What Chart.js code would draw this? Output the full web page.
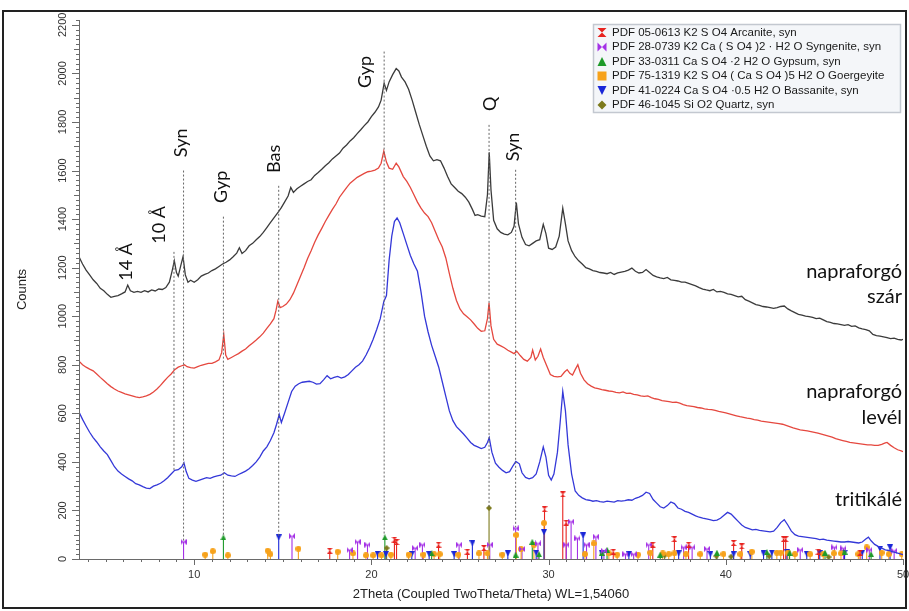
<!DOCTYPE html>
<html><head><meta charset="utf-8">
<script src="https://cdn.jsdelivr.net/npm/chart.js@4/dist/chart.umd.min.js"></script>
<style>html,body{margin:0;padding:0;background:#fff;}canvas{display:block;}</style>
</head><body>
<canvas id="c" width="909" height="611"></canvas>
<script>
// ---------- DATA ----------
const xTickLabels = [10, 20, 30, 40, 50];
const yTickLabels = [0, 200, 400, 600, 800, 1000, 1200, 1400, 1600, 1800, 2000, 2200];

// napraforgó szár (black)
const szar = [[3.5,1245],[3.7,1215],[3.9,1190],[4.1,1170],[4.3,1150],[4.5,1135],[4.7,1115],[4.9,1105],[5.1,1090],[5.3,1078],[5.5,1082],[5.7,1085],[5.9,1092],[6.1,1100],[6.25,1128],[6.4,1105],[6.6,1098],[6.8,1102],[7.0,1098],[7.2,1105],[7.4,1100],[7.6,1108],[7.8,1104],[8.0,1112],[8.2,1110],[8.4,1118],[8.6,1140],[8.75,1185],[8.88,1228],[9.0,1180],[9.1,1165],[9.25,1210],[9.37,1245],[9.5,1170],[9.65,1140],[9.8,1148],[10.0,1140],[10.2,1150],[10.4,1165],[10.6,1172],[10.8,1178],[11.0,1188],[11.2,1195],[11.4,1205],[11.6,1215],[11.8,1222],[12.0,1232],[12.2,1245],[12.4,1260],[12.55,1282],[12.7,1258],[12.9,1270],[13.1,1290],[13.3,1300],[13.5,1315],[13.7,1328],[13.9,1345],[14.1,1365],[14.3,1385],[14.5,1405],[14.7,1425],[14.9,1445],[15.1,1470],[15.3,1495],[15.45,1530],[15.6,1510],[15.8,1525],[16.0,1535],[16.2,1545],[16.4,1555],[16.6,1562],[16.8,1580],[17.0,1592],[17.2,1605],[17.4,1620],[17.6,1632],[17.8,1648],[18.0,1660],[18.2,1672],[18.4,1692],[18.6,1705],[18.8,1722],[19.0,1735],[19.2,1752],[19.4,1768],[19.6,1785],[19.8,1800],[20.0,1822],[20.2,1840],[20.4,1862],[20.55,1890],[20.72,1960],[20.85,1930],[21.0,1965],[21.2,1995],[21.4,2020],[21.55,2010],[21.7,1985],[21.9,1965],[22.1,1935],[22.3,1890],[22.5,1840],[22.7,1790],[22.9,1745],[23.1,1700],[23.3,1660],[23.5,1640],[23.7,1645],[23.9,1640],[24.1,1610],[24.3,1575],[24.5,1545],[24.7,1530],[24.9,1515],[25.1,1505],[25.3,1490],[25.5,1470],[25.7,1440],[25.85,1415],[26.0,1418],[26.2,1412],[26.4,1410],[26.55,1500],[26.65,1675],[26.75,1520],[26.9,1395],[27.1,1360],[27.3,1345],[27.5,1338],[27.7,1335],[27.9,1345],[28.05,1370],[28.18,1468],[28.3,1380],[28.5,1325],[28.7,1295],[28.9,1290],[29.1,1300],[29.3,1310],[29.5,1315],[29.7,1378],[29.85,1340],[30.0,1280],[30.2,1275],[30.4,1285],[30.6,1330],[30.8,1445],[30.95,1380],[31.1,1310],[31.3,1270],[31.5,1245],[31.7,1228],[31.9,1215],[32.1,1200],[32.3,1195],[32.5,1188],[32.7,1185],[32.9,1180],[33.1,1178],[33.3,1175],[33.5,1180],[33.7,1172],[33.9,1178],[34.1,1182],[34.3,1185],[34.5,1190],[34.7,1198],[34.9,1185],[35.1,1178],[35.3,1180],[35.5,1192],[35.7,1180],[35.9,1168],[36.1,1162],[36.3,1158],[36.5,1155],[36.7,1160],[36.9,1150],[37.1,1148],[37.3,1145],[37.5,1140],[37.7,1140],[37.9,1135],[38.1,1130],[38.3,1125],[38.5,1118],[38.7,1112],[38.9,1108],[39.1,1105],[39.3,1110],[39.5,1100],[39.7,1102],[39.9,1098],[40.1,1092],[40.3,1090],[40.5,1085],[40.7,1080],[40.9,1082],[41.1,1068],[41.3,1062],[41.5,1055],[41.7,1048],[41.9,1045],[42.1,1040],[42.3,1038],[42.5,1035],[42.7,1032],[42.9,1035],[43.1,1040],[43.3,1042],[43.5,1030],[43.7,1022],[43.9,1015],[44.1,1008],[44.3,1004],[44.5,1000],[44.7,998],[44.9,995],[45.1,990],[45.3,992],[45.5,985],[45.7,978],[45.9,975],[46.1,970],[46.3,968],[46.5,965],[46.7,962],[46.9,965],[47.1,958],[47.3,960],[47.5,952],[47.7,948],[47.9,945],[48.1,940],[48.3,925],[48.5,920],[48.7,918],[48.9,915],[49.1,912],[49.3,908],[49.5,910],[49.7,905],[49.9,902],[50.0,905]];

// napraforgó levél (red)
const level = [[3.5,815],[3.7,800],[3.9,790],[4.1,782],[4.3,775],[4.5,762],[4.7,748],[4.9,735],[5.1,722],[5.3,710],[5.5,700],[5.7,692],[5.9,686],[6.1,680],[6.3,676],[6.5,672],[6.7,668],[6.9,665],[7.1,668],[7.3,672],[7.5,678],[7.7,688],[7.9,700],[8.1,715],[8.3,732],[8.5,748],[8.7,762],[8.9,780],[9.1,790],[9.3,796],[9.45,800],[9.6,792],[9.8,788],[10.0,786],[10.2,792],[10.4,798],[10.6,802],[10.8,806],[11.0,806],[11.2,812],[11.4,820],[11.55,850],[11.67,925],[11.78,840],[11.9,822],[12.1,830],[12.3,838],[12.5,846],[12.7,856],[12.9,865],[13.1,878],[13.3,890],[13.5,902],[13.7,915],[13.9,930],[14.1,950],[14.3,968],[14.5,990],[14.62,1025],[14.72,1062],[14.85,1035],[15.0,1040],[15.2,1050],[15.4,1068],[15.6,1095],[15.8,1130],[16.0,1165],[16.2,1200],[16.4,1238],[16.6,1270],[16.8,1305],[17.0,1335],[17.2,1362],[17.4,1390],[17.6,1415],[17.8,1440],[18.0,1462],[18.2,1490],[18.4,1510],[18.6,1530],[18.8,1548],[19.0,1560],[19.2,1572],[19.4,1580],[19.6,1588],[19.8,1595],[20.0,1598],[20.2,1602],[20.4,1610],[20.55,1630],[20.7,1680],[20.85,1635],[21.0,1610],[21.2,1605],[21.4,1630],[21.55,1615],[21.8,1575],[22.0,1555],[22.2,1530],[22.4,1500],[22.6,1470],[22.8,1445],[23.0,1425],[23.2,1410],[23.4,1385],[23.6,1350],[23.8,1315],[24.0,1285],[24.2,1240],[24.4,1175],[24.6,1115],[24.8,1065],[25.0,1030],[25.2,1010],[25.4,998],[25.6,985],[25.8,968],[26.0,950],[26.2,938],[26.4,940],[26.55,990],[26.64,1055],[26.75,960],[26.9,905],[27.1,885],[27.3,878],[27.5,870],[27.7,860],[27.9,852],[28.05,846],[28.2,856],[28.4,838],[28.6,822],[28.8,815],[29.0,830],[29.1,860],[29.25,820],[29.4,835],[29.55,865],[29.7,830],[29.9,795],[30.1,760],[30.3,752],[30.5,750],[30.7,752],[30.9,770],[31.05,780],[31.2,765],[31.35,758],[31.5,780],[31.65,800],[31.8,765],[32.0,738],[32.2,722],[32.4,712],[32.6,705],[32.8,702],[33.0,698],[33.2,695],[33.4,692],[33.6,690],[33.8,686],[34.0,684],[34.2,688],[34.4,682],[34.6,683],[34.8,678],[35.0,676],[35.2,672],[35.4,670],[35.6,672],[35.8,665],[36.0,660],[36.2,657],[36.4,652],[36.6,650],[36.8,648],[37.0,645],[37.2,646],[37.4,642],[37.6,636],[37.8,632],[38.0,630],[38.2,628],[38.4,624],[38.6,622],[38.8,618],[39.0,616],[39.2,615],[39.4,612],[39.6,608],[39.8,605],[40.0,602],[40.2,598],[40.4,594],[40.6,590],[40.8,586],[41.0,583],[41.2,580],[41.4,578],[41.6,574],[41.8,572],[42.0,568],[42.2,566],[42.4,564],[42.6,562],[42.8,560],[43.0,558],[43.2,555],[43.4,550],[43.6,545],[43.8,540],[44.0,536],[44.2,532],[44.4,530],[44.6,528],[44.8,525],[45.0,522],[45.2,518],[45.4,514],[45.6,510],[45.8,506],[46.0,502],[46.2,496],[46.4,492],[46.6,488],[46.8,484],[47.0,480],[47.2,478],[47.4,476],[47.6,474],[47.8,472],[48.0,470],[48.2,470],[48.4,468],[48.6,468],[48.8,472],[49.0,478],[49.1,480],[49.3,468],[49.5,458],[49.7,450],[49.9,445],[50.0,442]];

// tritikálé (blue)
const tritikale = [[3.5,605],[3.7,575],[3.9,548],[4.1,522],[4.3,500],[4.5,482],[4.7,462],[4.9,445],[5.1,430],[5.3,405],[5.5,380],[5.7,362],[5.9,350],[6.1,340],[6.3,330],[6.5,322],[6.7,310],[6.9,305],[7.1,298],[7.3,292],[7.5,290],[7.7,300],[7.9,305],[8.1,312],[8.3,322],[8.5,335],[8.7,350],[8.9,365],[9.1,368],[9.3,380],[9.42,396],[9.55,360],[9.7,332],[9.9,325],[10.1,320],[10.3,325],[10.5,330],[10.7,335],[10.9,332],[11.1,338],[11.3,342],[11.5,345],[11.7,355],[11.9,345],[12.1,342],[12.3,340],[12.5,348],[12.7,355],[12.9,362],[13.1,372],[13.3,385],[13.5,400],[13.7,420],[13.9,445],[14.1,462],[14.3,488],[14.5,520],[14.65,555],[14.8,595],[14.92,562],[15.1,600],[15.3,645],[15.5,690],[15.7,712],[15.9,722],[16.1,728],[16.3,730],[16.5,732],[16.7,728],[16.9,720],[17.1,722],[17.3,738],[17.5,755],[17.7,742],[17.9,748],[18.1,752],[18.3,745],[18.5,750],[18.7,760],[18.9,775],[19.1,790],[19.3,800],[19.5,815],[19.7,840],[19.9,870],[20.1,905],[20.3,945],[20.5,990],[20.7,1060],[20.85,1085],[21.0,1230],[21.15,1330],[21.3,1390],[21.45,1405],[21.6,1385],[21.8,1340],[22.0,1295],[22.2,1250],[22.4,1215],[22.6,1185],[22.8,1100],[23.0,1000],[23.2,935],[23.4,880],[23.6,835],[23.8,790],[24.0,730],[24.2,670],[24.4,610],[24.6,570],[24.8,545],[25.0,530],[25.2,515],[25.4,498],[25.6,480],[25.8,468],[26.0,462],[26.2,455],[26.4,460],[26.55,480],[26.65,500],[26.8,440],[27.0,395],[27.2,378],[27.4,365],[27.6,355],[27.8,360],[28.0,385],[28.15,402],[28.35,392],[28.5,355],[28.7,336],[28.9,330],[29.1,335],[29.3,350],[29.5,400],[29.7,462],[29.85,420],[30.0,345],[30.15,325],[30.3,350],[30.5,440],[30.65,560],[30.8,690],[30.95,610],[31.1,470],[31.3,350],[31.5,280],[31.7,262],[31.9,252],[32.1,245],[32.3,242],[32.5,238],[32.7,240],[32.9,236],[33.1,234],[33.3,238],[33.5,236],[33.7,234],[33.9,240],[34.1,238],[34.3,240],[34.5,244],[34.7,242],[34.9,250],[35.1,255],[35.3,262],[35.5,275],[35.7,270],[35.9,245],[36.1,230],[36.3,215],[36.5,210],[36.7,220],[36.9,235],[37.1,228],[37.3,210],[37.5,205],[37.7,196],[37.9,192],[38.1,185],[38.3,178],[38.5,172],[38.7,168],[38.9,165],[39.1,162],[39.3,158],[39.5,160],[39.7,168],[39.9,180],[40.1,192],[40.3,185],[40.5,170],[40.7,155],[40.9,140],[41.1,130],[41.3,125],[41.5,120],[41.7,122],[41.9,118],[42.1,116],[42.3,114],[42.5,112],[42.7,115],[42.9,130],[43.1,150],[43.3,162],[43.5,140],[43.7,115],[43.9,100],[44.1,94],[44.3,92],[44.5,90],[44.7,88],[44.9,86],[45.1,84],[45.3,80],[45.5,82],[45.7,78],[45.9,76],[46.1,74],[46.3,72],[46.5,70],[46.7,70],[46.9,72],[47.1,70],[47.3,68],[47.5,66],[47.7,70],[47.9,82],[48.05,90],[48.2,75],[48.4,60],[48.6,52],[48.8,45],[49.0,38],[49.2,35],[49.4,30],[49.6,26],[49.8,22],[50.0,18]];

// reference pattern sticks [2theta, height]
const arcanite = [[17.65,34],[21.3,80],[21.42,70],[23.79,59],[25.42,30],[26.35,45],[29.77,205],[30.8,266],[30.99,150],[33.65,30],[35.88,59],[37.1,82],[37.9,59],[40.44,66],[40.9,52],[43.26,82],[43.38,82],[45.23,30],[47.58,26]];
const syngenite = [[9.4,71],[15.52,94],[18.77,37],[19.22,71],[19.78,59],[22.47,45],[22.88,59],[24.95,59],[26.68,59],[28.14,126],[28.5,41],[29.4,64],[31.0,59],[31.27,154],[31.63,85],[32.14,59],[32.67,92],[33.12,34],[34.34,20],[34.8,20],[35.65,59],[37.62,48],[38.1,48],[38.94,42],[44.2,38],[46.13,48],[46.64,44],[48.1,38],[49.5,34]];
const gypsum = [[11.65,89],[20.76,89],[23.4,23],[28.14,18],[29.08,71],[29.46,20],[33.0,25],[33.3,38],[36.3,18],[39.5,26],[42.32,28],[43.6,26],[45.6,26],[46.7,30],[48.2,20]];
const goergeyite = [[10.62,18],[11.05,32],[11.9,15],[14.15,34],[14.3,20],[15.88,42],[18.1,30],[18.96,23],[19.69,15],[20.1,15],[20.57,15],[21.1,18],[22.1,18],[22.94,18],[23.54,20],[23.86,20],[24.91,18],[26.07,23],[26.55,23],[27.39,18],[28.18,99],[28.45,41],[29.17,59],[29.74,148],[32.05,20],[32.55,64],[33.4,23],[33.87,18],[35.05,18],[35.75,26],[36.44,23],[36.78,20],[37.1,23],[37.75,20],[38.56,20],[39.87,20],[40.82,20],[41.47,30],[42.88,26],[43.1,26],[43.5,26],[43.9,20],[44.76,20],[45.5,20],[46.1,23],[46.5,23],[47.48,20],[47.95,48],[48.8,26],[49.2,20],[49.93,20]];
const bassanite = [[14.77,89],[20.35,20],[20.82,20],[22.28,20],[23.26,20],[24.67,20],[25.7,65],[27.7,23],[29.3,26],[29.74,110],[31.95,97],[32.99,26],[34.53,20],[37.34,23],[39.13,20],[40.44,20],[41.38,20],[42.13,23],[42.6,26],[43.45,28],[44.57,20],[45.3,23],[46.7,26],[47.7,26],[48.7,42],[49.27,48]];
const quartz = [[20.86,45],[26.64,210],[36.55,15],[39.47,12],[40.3,10],[42.45,12],[45.8,8]];

// dotted marker lines [2theta, top, bottom]
const refLines = [[8.86,1265,367],[9.4,1600,75],[11.65,1410,95],[14.77,1537,95],[20.72,2090,95],[26.64,1788,212],[28.14,1603,130]];
// peak labels [text, 2theta, counts] (rotated)
const peakLabels = [['14 Å',6.17,1224],['10 Å',8.03,1376],['Syn',9.27,1714],['Gyp',11.52,1533],['Bas',14.5,1648],['Gyp',19.63,2006],['Q',26.73,1875],['Syn',28.03,1697]];
// sample labels [text, counts]
const sampleLabels = [['napraforgó',1182],['szár',1079],['napraforgó',688],['levél',581],['tritikálé',243]];
const legendTexts = ['PDF 05-0613 K2 S O4 Arcanite, syn','PDF 28-0739 K2 Ca ( S O4 )2 · H2 O Syngenite, syn','PDF 33-0311 Ca S O4 ·2 H2 O Gypsum, syn','PDF 75-1319 K2 S O4 ( Ca S O4 )5 H2 O Goergeyite','PDF 41-0224 Ca S O4 ·0.5 H2 O Bassanite, syn','PDF 46-1045 Si O2 Quartz, syn'];

// ---------- STYLE / DRAW ----------
const phaseColors = ['#e8231f','#a431e6','#1e9a2a','#f7a21b','#1a27d8','#7d7a1c'];
const phaseShapes = ['hourglass','bowtie','triUp','square','triDown','diamond'];
const phases = [arcanite, syngenite, gypsum, goergeyite, bassanite, quartz];

function drawShape(g, shape, cx, cy, s, color){
  const h = s/2;
  g.fillStyle = color;
  g.beginPath();
  if(shape==='hourglass'){ g.moveTo(cx-h,cy-h); g.lineTo(cx+h,cy-h); g.lineTo(cx,cy); g.closePath(); g.moveTo(cx-h,cy+h); g.lineTo(cx+h,cy+h); g.lineTo(cx,cy); g.closePath(); }
  else if(shape==='bowtie'){ g.moveTo(cx-h,cy-h); g.lineTo(cx-h,cy+h); g.lineTo(cx,cy); g.closePath(); g.moveTo(cx+h,cy-h); g.lineTo(cx+h,cy+h); g.lineTo(cx,cy); g.closePath(); }
  else if(shape==='triUp'){ g.moveTo(cx,cy-h); g.lineTo(cx+h,cy+h); g.lineTo(cx-h,cy+h); g.closePath(); }
  else if(shape==='triDown'){ g.moveTo(cx-h,cy-h); g.lineTo(cx+h,cy-h); g.lineTo(cx,cy+h); g.closePath(); }
  else if(shape==='square'){ g.rect(cx-h,cy-h,s,s); }
  else if(shape==='dot'){ g.arc(cx,cy,h,0,Math.PI*2); }
  else if(shape==='diamond'){ g.moveTo(cx,cy-h); g.lineTo(cx+h,cy); g.lineTo(cx,cy+h); g.lineTo(cx-h,cy); g.closePath(); }
  g.fill();
}
function markerCanvas(shape, color, s){
  const c = document.createElement('canvas'); c.width = s; c.height = s;
  drawShape(c.getContext('2d'), shape === 'square' ? 'dot' : shape, s/2, s/2, s, color);
  return c;
}
const P = p => ({x:p[0], y:p[1]});
const refData = [];
refLines.forEach(r => { refData.push({x:r[0],y:r[1]},{x:r[0],y:r[2]},{x:r[0],y:null}); });

const datasets = [
  {data: refData, showLine:true, spanGaps:false, borderColor:'#666', borderWidth:1, borderDash:[2,2], pointRadius:0},
  {data: szar.map(P), showLine:true, borderColor:'#3b3b3b', borderWidth:1.3, pointRadius:0},
  {data: level.map(P), showLine:true, borderColor:'#e5483f', borderWidth:1.3, pointRadius:0},
  {data: tritikale.map(P), showLine:true, borderColor:'#3438d8', borderWidth:1.3, pointRadius:0}
];
phases.forEach((ph,i) => datasets.push({data: ph.map(P), showLine:false, pointStyle: markerCanvas(phaseShapes[i], phaseColors[i], 6), pointRadius:3, stick:true, stickColor: phaseColors[i]}));

const decor = {
  id:'decor',
  beforeDatasetsDraw(chart){
    const ctx = chart.ctx, xs = chart.scales.x, ys = chart.scales.y;
    ctx.save();
    chart.data.datasets.forEach(ds => {
      if(!ds.stick) return;
      ctx.strokeStyle = ds.stickColor; ctx.lineWidth = 1.1;
      ds.data.forEach(p => {
        const x = xs.getPixelForValue(p.x);
        ctx.beginPath(); ctx.moveTo(x, ys.getPixelForValue(0)); ctx.lineTo(x, ys.getPixelForValue(p.y)); ctx.stroke();
      });
    });
    ctx.restore();
  },
  afterDraw(chart){
    const ctx = chart.ctx, xs = chart.scales.x, ys = chart.scales.y, a = chart.chartArea;
    ctx.save();
    // axes
    ctx.strokeStyle = '#6a6a6a'; ctx.lineWidth = 1;
    ctx.beginPath();
    ctx.moveTo(Math.round(a.left)+0.5, a.top); ctx.lineTo(Math.round(a.left)+0.5, a.bottom+0.5);
    ctx.moveTo(a.left, Math.round(a.bottom)+0.5); ctx.lineTo(a.right, Math.round(a.bottom)+0.5);
    for(let k=0; k<=111; k++){
      const v = k*20, y = Math.round(ys.getPixelForValue(v))+0.5;
      const len = (v%200===0) ? 7 : (v%100===0 ? 5 : 3);
      ctx.moveTo(a.left - len, y); ctx.lineTo(a.left, y);
    }
    for(let t=4; t<=50; t++){
      const x = Math.round(xs.getPixelForValue(t))+0.5;
      const len = (t%10===0) ? 6 : 3;
      ctx.moveTo(x, a.bottom); ctx.lineTo(x, a.bottom+len);
    }
    ctx.stroke();
    // tick labels
    ctx.fillStyle = '#333'; ctx.font = '11px "Liberation Sans", Arial, sans-serif';
    ctx.textAlign = 'center'; ctx.textBaseline = 'middle';
    yTickLabels.forEach(v => {
      ctx.save(); ctx.translate(a.left - 16, ys.getPixelForValue(v)); ctx.rotate(-Math.PI/2);
      ctx.fillText(String(v), 0, 0); ctx.restore();
    });
    xTickLabels.forEach(t => ctx.fillText(String(t), xs.getPixelForValue(t), a.bottom + 16));
    // axis titles
    ctx.font = '13px "Liberation Sans", Arial, sans-serif'; ctx.fillStyle = '#222';
    ctx.fillText('2Theta (Coupled TwoTheta/Theta) WL=1,54060', (a.left + a.right)/2, a.bottom + 35);
    ctx.save(); ctx.translate(22, (a.top + a.bottom)/2); ctx.rotate(-Math.PI/2);
    ctx.fillText('Counts', 0, 0); ctx.restore();
    // peak labels
    ctx.font = '18px Lato, "Open Sans", sans-serif'; ctx.fillStyle = '#111';
    peakLabels.forEach(l => {
      ctx.save(); ctx.translate(xs.getPixelForValue(l[1]), ys.getPixelForValue(l[2])); ctx.rotate(-Math.PI/2);
      ctx.fillText(l[0], 0, 0); ctx.restore();
    });
    // sample labels
    ctx.font = '20px Lato, "Open Sans", sans-serif'; ctx.textAlign = 'right';
    sampleLabels.forEach(l => ctx.fillText(l[0], a.right - 1, ys.getPixelForValue(l[1])));
    // legend
    ctx.fillStyle = '#f4f6f9'; ctx.fillRect(593.5, 24.5, 307, 88);
    ctx.strokeStyle = '#c3c8d0'; ctx.lineWidth = 1.5; ctx.strokeRect(593.5, 24.5, 307, 88);
    ctx.font = '11.5px "Liberation Sans", Arial, sans-serif'; ctx.textAlign = 'left';
    legendTexts.forEach((txt, i) => {
      const y = 32.5 + i*14.5;
      drawShape(ctx, phaseShapes[i], 602, y, 9, phaseColors[i]);
      ctx.fillStyle = '#1a1a1a';
      ctx.fillText(txt, 612, y);
    });
    // frame
    ctx.strokeStyle = '#222'; ctx.lineWidth = 2;
    ctx.strokeRect(3, 11, 903, 597);
    ctx.restore();
  }
};

new Chart(document.getElementById('c'), {
  type: 'scatter',
  data: { datasets },
  options: {
    responsive: false, devicePixelRatio: 1, animation: false,
    layout: { padding: { left: 79, top: 20, right: 6, bottom: 52 } },
    plugins: { legend: { display: false }, tooltip: { enabled: false } },
    scales: {
      x: { type: 'linear', min: 3.5, max: 50, display: false },
      y: { type: 'linear', min: 0, max: 2220, display: false }
    }
  },
  plugins: [decor]
});
</script>
</body></html>
